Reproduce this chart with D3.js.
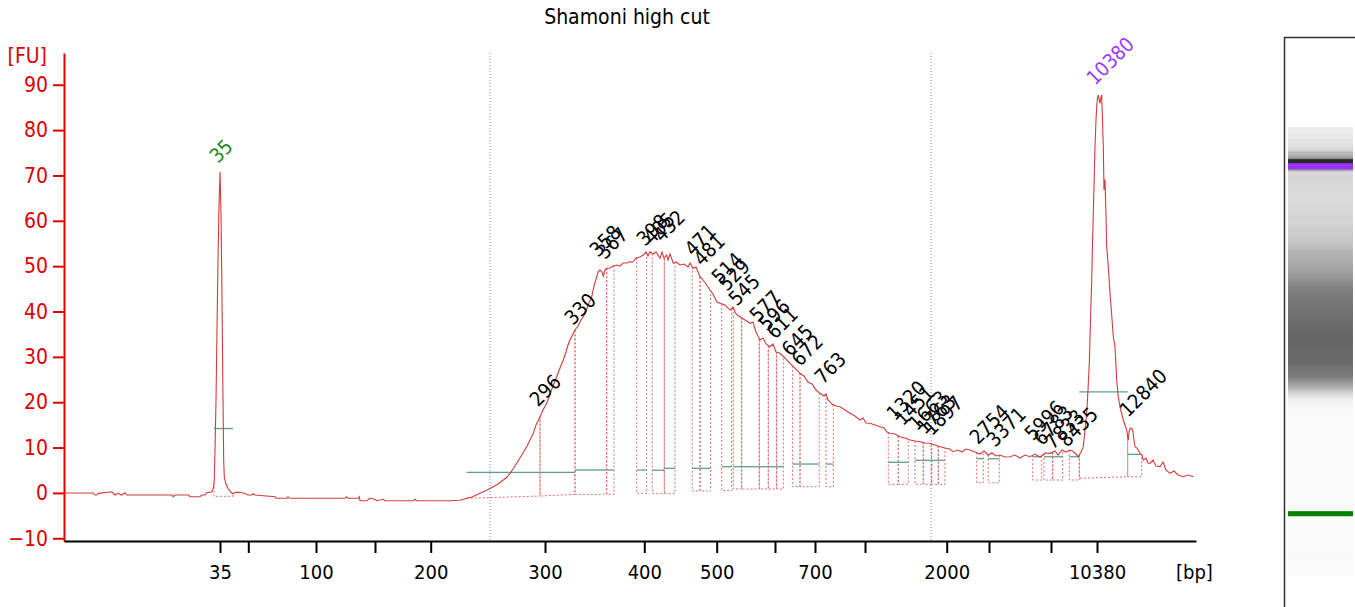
<!DOCTYPE html>
<html><head><meta charset="utf-8">
<script src="https://cdn.jsdelivr.net/npm/d3@7"></script>
<style>
html,body{margin:0;padding:0;background:#fff;}
svg{display:block;}
text{font-family:'DejaVu Sans Condensed','Liberation Sans',sans-serif;}
</style></head>
<body>
<svg id="chart" width="1355" height="607"></svg>
<script>
// ---------- DATA ----------
const title = "Shamoni high cut";
// ladder sizes (bp) and their migration positions (s)
const ladderSizes = [35, 50, 100, 150, 200, 300, 400, 500, 600, 700, 1000, 2000, 3000, 7000, 10380];
const ladderTimes = [35.6, 38.43, 45.2, 51.1, 56.67, 68.1, 78.03, 85.27, 91.1, 95.1, 100.1, 108.27, 112.5, 118.7, 123.3];
const labeledSizes = [35, 100, 200, 300, 400, 500, 700, 2000, 10380];
const yTicks = [-10, 0, 10, 20, 30, 40, 50, 60, 70, 80, 90];
const timeDomain = [20, 133.2];
const fuDomain = [-10.6, 97];
// region of analysis boundaries (s)
const regionTimes = [62.6, 106.7];
// electropherogram trace: [time (s), fluorescence (FU)]
const trace = [
[20.0,0.0],[22.93,0.0],[23.1,-0.46],[23.27,-0.46],[23.43,-0.09],[24.77,0.26],[25.1,-0.46],[25.43,-0.09],[25.77,-0.46],[26.1,0.04],[26.27,-0.46],
[30.77,-0.46],[30.93,-0.84],[31.1,-0.46],[32.43,-0.46],[32.6,-0.84],[33.6,-0.84],[33.77,-0.46],[34.1,-0.46],[34.27,0.04],[34.77,0.26],[34.93,1.01],
[35.03,2.84],[35.1,9.46],[35.2,20.5],[35.3,35.9],[35.4,51.4],[35.5,63.5],[35.6,70.8],[35.7,61.3],[35.77,49.2],[35.83,35.9],[35.9,20.5],[35.97,7.25],
[36.03,3.5],[36.2,1.96],[36.4,0.97],[36.6,0.42],[36.9,-0.24],[37.1,0.13],[37.6,0.13],[38.1,-0.13],[38.4,-0.46],[38.8,-0.46],[38.9,-0.13],[39.1,-0.46],
[41.1,-0.84],[41.2,-1.19],[42.27,-1.19],[42.4,-0.84],[42.55,-1.19],[48.1,-1.19],[48.27,-0.84],[48.43,-1.19],[49.43,-1.19],[49.53,-0.84],[49.6,-1.72],
[50.27,-1.72],[50.6,-1.19],[51.1,-1.41],[51.27,-1.72],[51.93,-1.41],[52.1,-1.72],[54.93,-1.72],[55.1,-1.41],[55.27,-1.72],[58.6,-1.72],[59.6,-1.63],
[60.27,-1.19],[60.8,-0.9],[61.6,-0.09],[62.3,0.64],[62.93,1.37],[63.4,1.96],[63.93,2.84],[64.3,3.5],[64.6,4.32],[64.9,5.27],[65.27,6.53],[65.6,7.7],
[65.9,8.8],[66.27,10.19],[66.6,11.66],[66.93,13.14],[67.2,14.97],[67.4,15.85],[67.6,16.8],[67.9,18.28],[68.27,19.76],[68.6,21.81],[68.9,23.57],
[69.27,25.62],[69.6,27.54],[69.93,29.31],[70.2,31.07],[70.4,32.62],[70.6,33.72],[70.9,35.04],[71.1,35.92],[71.4,36.8],[71.7,38.13],[71.93,38.85],
[72.2,40.11],[72.5,41.87],[72.77,43.26],[73.0,45.62],[73.27,47.67],[73.4,48.71],[73.6,49.15],[73.8,48.71],[73.93,47.83],[74.1,49.15],[74.27,49.53],
[74.6,49.59],[74.9,50.03],[75.27,50.25],[75.6,50.03],[75.9,50.69],[76.3,50.69],[76.6,50.98],[76.9,50.92],[77.2,51.8],[77.6,52.02],[77.93,52.46],
[78.2,53.12],[78.4,52.24],[78.6,53.19],[78.9,52.68],[79.2,53.12],[79.6,51.73],[79.8,53.12],[80.0,51.8],[80.27,52.46],[80.4,51.36],[80.6,52.68],
[80.93,50.63],[81.2,50.92],[81.6,50.25],[82.0,50.47],[82.4,49.81],[82.6,50.69],[82.93,49.53],[83.2,49.81],[83.6,47.67],[83.9,46.95],[84.2,46.06],
[84.6,44.74],[84.9,43.86],[85.27,42.16],[85.6,41.81],[86.1,41.43],[86.6,40.33],[86.9,40.99],[87.2,39.45],[87.6,38.85],[88.1,38.13],[88.6,37.4],
[88.9,37.68],[89.2,35.48],[89.6,33.72],[89.9,34.16],[90.2,32.84],[90.6,32.24],[90.9,32.84],[91.2,31.07],[91.6,30.78],[92.1,29.75],[92.6,28.58],
[93.1,27.54],[93.6,26.37],[94.0,25.78],[94.4,24.45],[94.8,24.01],[95.2,22.69],[95.6,21.96],[96.0,21.37],[96.2,21.81],[96.4,20.49],[96.8,19.6],
[97.2,19.16],[97.6,19.01],[98.1,18.28],[98.6,17.55],[99.1,16.96],[99.6,16.08],[99.9,16.52],[100.2,15.41],[100.6,15.35],[101.1,14.97],[101.6,14.6],
[102.0,14.31],[102.3,13.43],[102.6,13.14],[103.1,12.99],[103.6,12.39],[104.1,12.11],[104.6,11.66],[105.1,11.44],[105.6,11.29],[106.1,11.0],
[106.6,10.94],[107.1,10.56],[107.6,10.19],[108.1,9.9],[108.6,9.68],[108.9,9.08],[109.4,9.46],[109.8,9.02],[110.2,9.68],[110.6,9.46],[111.1,9.02],
[111.6,8.58],[112.0,9.24],[112.4,8.36],[112.8,8.8],[113.2,8.14],[113.6,8.36],[114.1,7.92],[114.6,7.98],[115.1,8.36],[115.6,7.7],[116.1,8.36],
[116.6,7.98],[117.1,8.58],[117.6,7.92],[118.1,8.8],[118.6,8.73],[119.1,9.24],[119.4,8.36],[119.8,9.46],[120.2,9.02],[120.6,9.46],[121.0,9.02],
[121.43,7.98],[121.7,9.02],[121.93,10.19],[122.1,13.87],[122.27,17.55],[122.4,22.69],[122.53,28.58],[122.65,38.13],[122.77,46.95],[122.85,54.66],
[122.93,61.65],[123.02,69.0],[123.1,76.34],[123.2,82.23],[123.27,85.16],[123.35,87.08],[123.43,87.74],[123.52,86.64],[123.6,85.91],[123.68,87.08],
[123.77,87.74],[123.85,82.23],[123.93,76.34],[124.0,66.79],[124.05,69.0],[124.1,69.0],[124.2,61.28],[124.27,54.29],[124.43,49.88],[124.6,44.01],
[124.77,39.23],[124.93,34.44],[125.1,32.24],[125.27,24.9],[125.4,21.59],[125.6,19.01],[125.77,17.4],[125.93,16.08],[126.1,14.97],[126.27,13.87],
[126.43,11.66],[126.5,13.43],[126.6,14.24],[126.7,14.31],[126.87,13.87],[127.0,11.66],[127.1,10.19],[127.3,9.9],[127.6,8.73],[127.8,8.36],
[127.93,7.25],[128.2,7.7],[128.4,6.59],[128.6,6.53],[128.9,7.25],[129.2,5.93],[129.6,5.78],[129.9,6.81],[130.2,5.05],[130.6,4.32],[131.0,4.83],
[131.4,3.95],[131.93,3.57],[132.4,3.95],[132.93,3.57]
];
// called peaks: size (bp), time (s), height (FU)
const peakSizes = [35, 296, 330, 358, 367, 398, 405, 432, 471, 481, 514, 529, 545, 577, 596, 611, 645, 672, 763, 1320, 1451, 1663, 1763, 1897, 2754, 3371, 5996, 6783, 7833, 8435, 10380, 12840];
const peakTimes = [35.6, 67.6, 71.1, 73.6, 74.3, 78.3, 79.0, 80.0, 83.1, 84.0, 85.8, 86.5, 87.5, 89.6, 90.5, 91.3, 92.8, 93.8, 96.1, 103.3, 104.1, 105.5, 106.3, 107.0, 111.6, 113.3, 117.1, 118.0, 119.1, 120.5, 123.3, 126.6];
const peakFU = [71.2, 17.5, 35.5, 50.5, 50, 52.9, 53.3, 53.8, 50.7, 48.5, 44.5, 43, 39.7, 36.1, 34.2, 32.4, 28.6, 26.4, 22.5, 14.4, 13.3, 12.2, 11.4, 11.1, 9.2, 8.6, 10, 8.9, 8.1, 8.6, 88.4, 15.2];
const lowerMarker = 35, upperMarker = 10380;
// peak integration windows: [start (s), end (s), baseline at start (FU), baseline at end (FU), level (FU)]
const peakWindows = [
[35.0,36.9,-0.75,-0.75,14.2],
[60.27,67.6,-1.19,-0.68,4.54],[67.6,71.1,-0.68,-0.31,4.54],[71.1,74.27,-0.31,-0.31,5.05],[74.27,75.0,-0.31,-0.31,5.05],
[77.27,78.27,-0.09,-0.09,5.05],[78.83,80.03,-0.09,-0.09,5.0],[80.03,81.1,-0.09,-0.09,5.42],
[82.83,83.6,0.42,0.42,5.42],[83.6,84.67,0.42,0.42,5.42],
[85.77,86.77,0.53,0.53,5.78],[86.93,87.77,0.86,0.86,5.78],[87.77,89.53,0.86,0.86,5.78],[89.53,90.43,0.86,0.86,5.78],[90.43,91.27,0.86,0.86,5.78],[91.27,91.93,0.86,0.86,5.78],
[92.87,93.6,1.37,1.37,6.37],[93.6,95.53,1.37,1.37,6.37],[96.2,96.93,1.37,1.37,6.37],
[102.43,103.43,1.9,1.9,6.75],[103.43,104.43,1.9,1.9,6.75],
[105.1,105.93,1.9,1.9,7.19],[105.93,106.77,1.9,1.9,7.19],[106.77,107.43,1.9,1.9,7.19],[107.43,108.1,1.9,1.9,7.19],
[111.27,111.93,2.25,2.25,7.54],[112.43,113.53,2.25,2.25,7.54],
[116.87,117.77,2.84,2.84,7.98],[118.0,118.87,2.84,2.84,7.98],[118.87,119.87,2.84,2.84,7.98],[120.53,121.53,2.84,2.84,7.98],
[121.53,126.37,3.22,3.57,22.3],
[126.37,127.77,3.57,3.57,8.5]
];

// ---------- DRAW ----------
const svg = d3.select("#chart");
const x = d3.scaleLinear().domain(timeDomain).range([64, 1196]);
const y = d3.scaleLinear().domain(fuDomain).range([541, 53]);
const bis = d3.bisector(d => d[0]).left;
function fuAt(t) {
  const i = bis(trace, t);
  if (i <= 0) return trace[0][1];
  if (i >= trace.length) return trace[trace.length - 1][1];
  const a = trace[i - 1], b = trace[i];
  return a[1] + (b[1] - a[1]) * (t - a[0]) / (b[0] - a[0]);
}

// title
svg.append("text").attr("x", 627).attr("y", 24).attr("text-anchor", "middle")
  .attr("font-size", 21).attr("fill", "#000").text(title);

// region lines
svg.selectAll(".region").data(regionTimes).join("line")
  .attr("x1", d => x(d)).attr("x2", d => x(d)).attr("y1", 53).attr("y2", 541)
  .attr("stroke", "#7f7fc8").attr("stroke-width", 1).attr("stroke-dasharray", "1,2");

// peak windows (dotted boxes)
const gw = svg.append("g");
peakWindows.forEach(w => {
  const [t0, t1, b0, b1, lv] = w;
  gw.append("path")
    .attr("d", `M${x(t0)},${y(fuAt(t0))}L${x(t0)},${y(b0)}L${x(t1)},${y(b1)}L${x(t1)},${y(fuAt(t1))}`)
    .attr("fill", "none").attr("stroke", "#e06a6a").attr("stroke-width", 1).attr("stroke-dasharray", "2,2");
  gw.append("line").attr("x1", x(t0)).attr("x2", x(t1)).attr("y1", y(lv)).attr("y2", y(lv))
    .attr("stroke", "#5e9e8c").attr("stroke-width", 1.3);
});

// trace
svg.append("path").datum(trace)
  .attr("d", d3.line().x(d => x(d[0])).y(d => y(d[1])))
  .attr("fill", "none").attr("stroke", "#d23c3c").attr("stroke-width", 1.1);

// y axis
const yAxis = svg.append("g").attr("transform", "translate(64,0)")
  .call(d3.axisLeft(y).tickValues(yTicks).tickSize(11).tickSizeOuter(0).tickPadding(5));
yAxis.select(".domain").attr("stroke", "#e00000").attr("stroke-width", 2);
yAxis.selectAll(".tick line").attr("stroke", "#e00000").attr("stroke-width", 2);
yAxis.selectAll(".tick text").attr("fill", "#e00000").attr("font-size", 21)
  .attr("font-family", "'DejaVu Sans Condensed','Liberation Sans',sans-serif");
svg.append("text").attr("x", 47).attr("y", 63).attr("text-anchor", "end")
  .attr("font-size", 21).attr("fill", "#e00000").text("[FU]");

// x axis
const xAxis = svg.append("g").attr("transform", "translate(0,541)")
  .call(d3.axisBottom(x).tickValues(ladderTimes)
    .tickFormat((t, i) => labeledSizes.includes(ladderSizes[i]) ? String(ladderSizes[i]) : "")
    .tickSize(12).tickSizeOuter(0).tickPadding(12));
xAxis.select(".domain").attr("stroke", "#000").attr("stroke-width", 2);
xAxis.selectAll(".tick line").attr("stroke", "#000").attr("stroke-width", 2);
xAxis.selectAll(".tick text").attr("fill", "#000").attr("font-size", 20)
  .attr("font-family", "'DejaVu Sans Condensed','Liberation Sans',sans-serif");
svg.append("text").attr("x", 1176).attr("y", 579).attr("font-size", 20).attr("fill", "#000").text("[bp]");

// peak labels
const gl = svg.append("g");
peakSizes.forEach((s, i) => {
  const px = x(peakTimes[i]) - 2, py = y(peakFU[i]) - 6;
  const col = s === lowerMarker ? "#1f8a1f" : (s === upperMarker ? "#9b3cf5" : "#000");
  gl.append("text").attr("transform", `translate(${px},${py}) rotate(-45)`)
    .attr("font-size", 20).attr("fill", col).text(String(s));
});

// gel lane
const gelY = d3.scaleLinear().domain(timeDomain).range([575.5, 127]);
const gray = d3.scaleLinear().domain([0, 5, 10, 15, 30, 55, 90]).range([250, 232, 210, 178, 125, 100, 20]).clamp(true);
const defs = svg.append("defs");
const grad = defs.append("linearGradient").attr("id", "gel").attr("gradientUnits", "userSpaceOnUse")
  .attr("x1", 0).attr("x2", 0).attr("y1", gelY(timeDomain[1])).attr("y2", gelY(timeDomain[0]));
const span = gelY(timeDomain[0]) - gelY(timeDomain[1]);
trace.slice().reverse().forEach(d => {
  const g = Math.round(gray(d[1]));
  grad.append("stop").attr("offset", (gelY(d[0]) - gelY(timeDomain[1])) / span)
    .attr("stop-color", `rgb(${g},${g},${g})`);
});
svg.append("rect").attr("x", 1288).attr("width", 65)
  .attr("y", gelY(timeDomain[1])).attr("height", span).attr("fill", "url(#gel)");
const lmT = peakTimes[peakSizes.indexOf(lowerMarker)], umT = peakTimes[peakSizes.indexOf(upperMarker)];
svg.append("rect").attr("x", 1288).attr("width", 65).attr("y", gelY(lmT) - 2.5).attr("height", 5).attr("fill", "#008000");
svg.append("rect").attr("x", 1288).attr("width", 65).attr("y", gelY(umT) - 7).attr("height", 4).attr("fill", "#2a2a2a");
svg.append("rect").attr("x", 1288).attr("width", 65).attr("y", gelY(umT) - 3).attr("height", 6).attr("fill", "#9933ff");
// gel frame
svg.append("path").attr("d", "M1284.5,607V37.5H1355").attr("fill", "none").attr("stroke", "#333").attr("stroke-width", 1.5);
</script>
</body></html>
